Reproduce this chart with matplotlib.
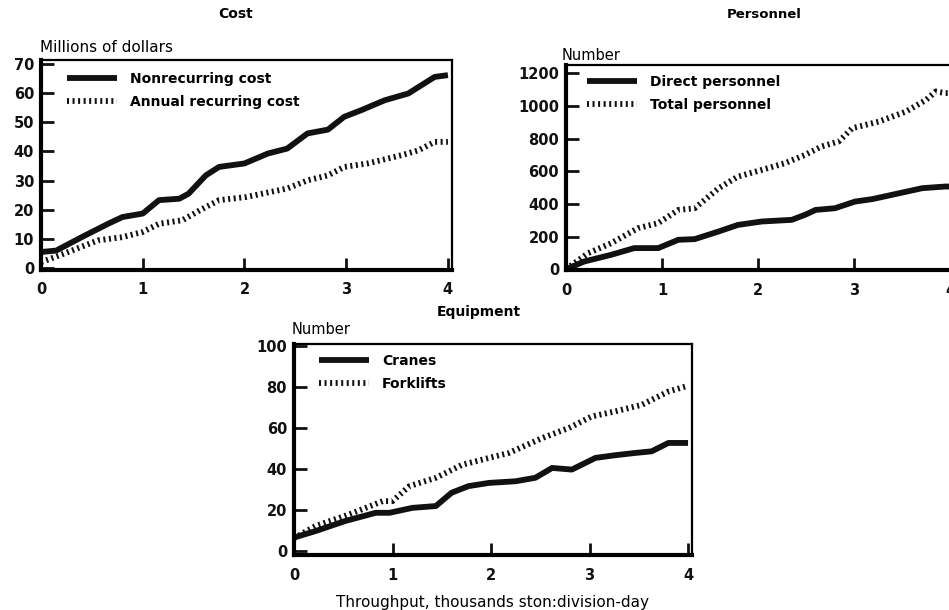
import numpy as np
import matplotlib
matplotlib.use("Agg")
import matplotlib.pyplot as plt

plt.rcParams["font.family"] = ["DejaVu Sans"]

# Cost panel (millions of dollars)
nonrec_x = [0, 0.15, 0.4, 0.66, 0.8, 1.0, 1.16, 1.36, 1.45, 1.62, 1.75, 2.0, 2.23, 2.42, 2.62, 2.82, 2.98, 3.15, 3.38, 3.61, 3.87, 4.0]
nonrec_y = [5.5, 6, 10.6, 15.2, 17.5, 18.7, 23.3, 23.8, 25.5, 31.8, 34.7, 35.9, 39.3, 41, 46.2, 47.5, 51.9, 54.2, 57.6, 59.9, 65.6, 66.2]
annual_x = [0, 0.23, 0.56, 0.8, 1.0, 1.16, 1.39, 1.56, 1.75, 2.02, 2.42, 2.62, 2.82, 2.98, 3.21, 3.54, 3.71, 3.87, 4.0]
annual_y = [2, 5, 9.5, 10.6, 12.4, 15.2, 16.4, 19.8, 23.3, 24.4, 27.3, 30.1, 31.8, 34.7, 35.9, 38.7, 40.4, 43.3, 43.3]

# Personnel panel (number)
direct_x = [0, 0.19, 0.47, 0.71, 0.96, 1.17, 1.34, 1.59, 1.79, 2.04, 2.35, 2.49, 2.6, 2.8, 3.01, 3.19, 3.47, 3.71, 3.95, 4.0]
direct_y = [0, 47, 88, 129, 129, 180, 184, 231, 271, 292, 302, 333, 363, 373, 414, 429, 465, 496, 506, 506]
total_x = [0, 0.23, 0.47, 0.75, 0.96, 1.17, 1.34, 1.59, 1.79, 2.04, 2.28, 2.49, 2.66, 2.84, 2.98, 3.26, 3.54, 3.75, 3.85, 3.95, 4.0]
total_y = [0, 98, 159, 251, 282, 363, 373, 496, 567, 608, 649, 700, 751, 782, 863, 904, 965, 1037, 1088, 1078, 1078]

# Equipment panel (number)
cranes_x = [0, 0.22, 0.52, 0.83, 0.97, 1.2, 1.44, 1.6, 1.77, 1.98, 2.25, 2.45, 2.62, 2.82, 3.06, 3.26, 3.46, 3.63, 3.8, 4.0]
cranes_y = [6.5, 9.7, 14.6, 18.6, 18.6, 21, 21.9, 28.4, 31.6, 33.2, 34, 35.7, 40.5, 39.7, 45.4, 46.7, 47.8, 48.6, 52.7, 52.7]
fork_x = [0, 0.22, 0.56, 0.9, 1.0, 1.17, 1.44, 1.71, 1.98, 2.18, 2.52, 2.79, 3.02, 3.26, 3.53, 3.8, 3.97]
fork_y = [6.2, 12.2, 17.8, 24.3, 24.3, 31.6, 35.7, 42.1, 45.4, 47.8, 55.1, 60, 65.6, 68.1, 71.3, 77.8, 80.2]

W, H = 949, 610
INK = "#111111"
DOTS = (0, (0.35, 0.6))


def px_axes(fig, left, top, right, bottom):
    return fig.add_axes([left / W, 1 - bottom / H, (right - left) / W, (bottom - top) / H])


def style(ax, ylim, yticks):
    ax.set_xlim(0, 4.04)
    ax.set_ylim(*ylim)
    ax.set_xticks([0, 1, 2, 3, 4])
    ax.set_yticks(yticks)
    for side in ["left", "bottom"]:
        ax.spines[side].set_linewidth(3)
    for side in ["top", "right"]:
        ax.spines[side].set_linewidth(1.6)
    ax.tick_params(direction="in", length=9, width=2, labelsize=10.5, colors=INK)
    ax.tick_params(axis="x", pad=9)
    ax.tick_params(axis="y", pad=5)
    for lab in ax.get_xticklabels() + ax.get_yticklabels():
        lab.set_fontweight("bold")


def draw(ax, xs1, ys1, lab1, xs2, ys2, lab2, anchor):
    ax.plot(xs1, ys1, color=INK, lw=4.2, solid_capstyle="butt", label=lab1)
    ax.plot(xs2, ys2, color=INK, lw=4.2, linestyle=DOTS, label=lab2)
    ax.legend(loc="upper left", bbox_to_anchor=anchor, frameon=False,
              handlelength=3.6, handletextpad=0.9, labelspacing=0.65,
              prop={"size": 10, "weight": "bold"}, borderaxespad=0)


fig = plt.figure(figsize=(W / 100, H / 100), dpi=100)

ax1 = px_axes(fig, 41, 59.7, 452, 269.5)
draw(ax1, nonrec_x, nonrec_y, "Nonrecurring cost", annual_x, annual_y, "Annual recurring cost", (0.05, 0.97))
style(ax1, (-0.5, 71.5), [0, 10, 20, 30, 40, 50, 60, 70])

ax2 = px_axes(fig, 566, 65, 954, 270)
draw(ax2, direct_x, direct_y, "Direct personnel", total_x, total_y, "Total personnel", (0.04, 0.98))
style(ax2, (-5, 1250), [0, 200, 400, 600, 800, 1000, 1200])

ax3 = px_axes(fig, 294, 344, 692, 555)
draw(ax3, cranes_x, cranes_y, "Cranes", fork_x, fork_y, "Forklifts", (0.05, 0.98))
style(ax3, (-2, 101), [0, 20, 40, 60, 80, 100])

fig.text(236 / W, 1 - 14 / H, "Cost", ha="center", va="center", fontsize=10, fontweight="bold")
fig.text(764 / W, 1 - 14 / H, "Personnel", ha="center", va="center", fontsize=9.5, fontweight="bold")
fig.text(479 / W, 1 - 312 / H, "Equipment", ha="center", va="center", fontsize=10, fontweight="bold")
fig.text(40 / W, 1 - 47 / H, "Millions of dollars", ha="left", va="center", fontsize=11)
fig.text(562 / W, 1 - 55 / H, "Number", ha="left", va="center", fontsize=10.5)
fig.text(292 / W, 1 - 329 / H, "Number", ha="left", va="center", fontsize=10.5)
fig.text(493 / W, 1 - 602 / H, "Throughput, thousands ston:division-day", ha="center", va="center", fontsize=11)

fig.savefig("out.png", dpi=100)
